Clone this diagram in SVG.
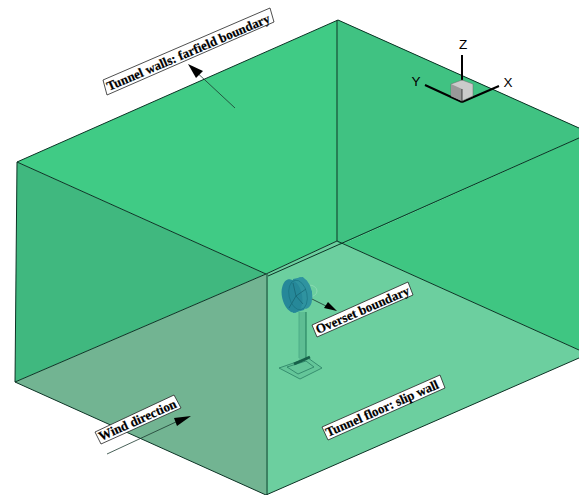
<svg xmlns="http://www.w3.org/2000/svg" width="579" height="495" viewBox="0 0 579 495">
<defs>
<style>
.e{stroke:#0c3325;stroke-width:1;fill:none}
.lab{fill:#fff;stroke:#222;stroke-width:.8}
.t{font-family:"Liberation Serif",serif;font-weight:bold;font-size:13px;fill:#000;stroke:#000;stroke-width:.2}
.l{stroke:#1c3a30;stroke-width:.8;fill:none}
.ax{stroke:#000;stroke-width:2;fill:none}
.at{font-family:"Liberation Sans",sans-serif;font-size:13.5px;fill:#000;text-anchor:middle}
.g{stroke:#2a7f63;stroke-width:.8;fill:none}
</style>
</defs>
<rect width="579" height="495" fill="#fff"/>
<g id="walls">
<polygon points="17,162 338,20 579,128 579,138 340,245 337,241 266,274" fill="#40cb85"/>
<polygon points="338,20 579,128 579,138 340,245 338,242" fill="#40c282"/>
<polygon points="17,162 266,274 15,382" fill="#40b87f"/>
<polygon points="266,274 337,241 579,350 579,358 266,495" fill="#6ccf9f"/>
<polygon points="340,245 579,138 579,350 337,241" fill="#3fc682"/>
<polygon points="15,382 266,274 266,495" fill="#72b492"/>
</g>
<g id="connectors">
<path class="e" d="M17,162 338,20 579,128M17,162 266,274 337,241M268,276 579,138M17,162 15,382 266,495 579,358M267,274V495M15,382 266,274M337,20V241L579,350"/>
<path class="l" d="M235,108 192,68"/><polygon points="188,64 203,71 196,78" fill="#000"/>
<path class="l" d="M107,454 178,421"/><polygon points="191,416 177,426 174,418" fill="#000"/>
<path class="l" d="M310,298 330,308"/><polygon points="337,311 324,308 328,302" fill="#000"/>
</g>
<g id="axes">
<path class="ax" d="M462,102V55M462,102 425,85M462,102 499,86"/>
<polygon points="451,84 462,80 473,84 473,96 462,101 451,96" fill="#cbcbcb" stroke="#666" stroke-width=".5"/>
<polygon points="451,84 462,89 462,101 451,96" fill="#999"/>
<path d="M462,89V102" stroke="#222" stroke-width=".8"/>
<text class="at" x="463" y="49">Z</text><text class="at" x="416" y="86">Y</text><text class="at" x="508" y="87">X</text>
</g>
<g id="turbine">
<path d="M299,312V360L306,358V312Z" fill="#5dbd93"/>
<path d="M299,312V358" stroke="#4fae88" fill="none"/>
<path d="M306,312V358" stroke="#1f7a58" stroke-width="1" fill="none"/>
<polygon points="279,368 308,358 322,368 300,379" fill="#64c699" stroke="#2a7f63" stroke-width=".8"/>
<polygon points="287,367 306,361 314,367 298,374" class="g"/>
<path d="M294,364 310,357" stroke="#17614a" stroke-width="3"/>
<ellipse cx="309" cy="291" rx="8" ry="6" fill="none" stroke="#8fdcb6" stroke-width=".8"/>
<path d="M293,279 303,277 312,292 304,310 293,313Z" fill="#2b8e9b"/>
<ellipse cx="303" cy="293" rx="9" ry="16" fill="#2f93a0" transform="rotate(-12 303 293)"/>
<ellipse cx="292" cy="296" rx="10" ry="17" fill="#268899" transform="rotate(-12 292 296)"/>
<path d="M293,283 296,296 306,289M296,296 289,308M296,296 303,304" stroke="#15616f" stroke-width=".7" fill="none"/>
<ellipse cx="298" cy="295" rx="9" ry="15" fill="none" stroke="#17717f" stroke-width=".6" transform="rotate(-12 298 295)"/>
</g>
<g id="label-walls"><polygon class="lab" points="103,80 270,8 274,22 107,95"/><text class="t" transform="translate(109,91) rotate(-23.2)">Tunnel walls: farfield boundary</text></g>
<g id="label-overset"><polygon class="lab" points="312,325 408,282 413,295 317,337"/><text class="t" transform="translate(318,334) rotate(-23.5)">Overset boundary</text></g>
<g id="label-wind"><polygon class="lab" points="95,432 174,395 181,408 101,444"/><text class="t" transform="translate(101,441) rotate(-24)">Wind direction</text></g>
<g id="label-floor"><polygon class="lab" points="322,427 440,375 445,388 328,440"/><text class="t" transform="translate(328,437) rotate(-23.8)">Tunnel floor: slip wall</text></g>
</svg>
